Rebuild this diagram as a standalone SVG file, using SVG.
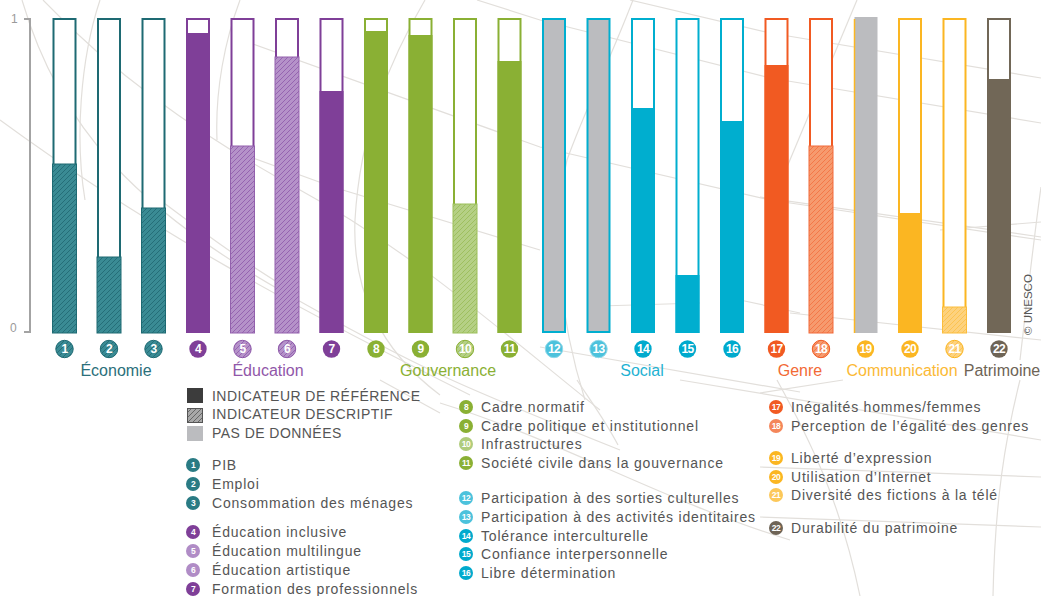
<svg xmlns="http://www.w3.org/2000/svg" width="1041" height="596" viewBox="0 0 1041 596">
<style>
.bg{fill:none;stroke:#e2dfdb;stroke-width:1.2}
.ax{fill:none;stroke:#a3a3a3;stroke-width:2}
.axt{font-family:"Liberation Sans",Arial,sans-serif;font-size:12px;fill:#9a9a9a}
.bn{font-family:"Liberation Sans",Arial,sans-serif;font-size:12px;font-weight:bold;fill:#fff;text-anchor:middle;letter-spacing:-0.6px}
.ln{font-family:"Liberation Sans",Arial,sans-serif;font-size:8.5px;font-weight:bold;fill:#fff;text-anchor:middle;letter-spacing:-0.5px}
.cat{font-family:"Liberation Sans",Arial,sans-serif;font-size:16px;text-anchor:middle}
.lg{font-family:"Liberation Sans",Arial,sans-serif;font-size:14px;fill:#555;letter-spacing:0.8px}
.lgc{font-family:"Liberation Sans",Arial,sans-serif;font-size:14px;fill:#555;letter-spacing:0.45px}
.out{fill:#fff;stroke-width:2}
.teal{stroke:#1e6a73}.purple{stroke:#7f3f98}.green{stroke:#8ab034}.cyan{stroke:#00aecf}.orange{stroke:#f15a22}.yellow{stroke:#fbb622}.brown{stroke:#716757}
</style>
<defs>
<pattern id="hTeal" patternUnits="userSpaceOnUse" width="5" height="5"><rect width="5" height="5" fill="#3a8b94"/><path d="M-1,1 L1,-1 M0,5 L5,0 M4,6 L6,4" stroke="#1f6771" stroke-width="0.8"/></pattern>
<pattern id="hPurple" patternUnits="userSpaceOnUse" width="5" height="5"><rect width="5" height="5" fill="#b592c9"/><path d="M-1,1 L1,-1 M0,5 L5,0 M4,6 L6,4" stroke="#8d58a9" stroke-width="0.8"/></pattern>
<pattern id="hGreen" patternUnits="userSpaceOnUse" width="5" height="5"><rect width="5" height="5" fill="#b5d085"/><path d="M-1,1 L1,-1 M0,5 L5,0 M4,6 L6,4" stroke="#98bb55" stroke-width="0.8"/></pattern>
<pattern id="hOrange" patternUnits="userSpaceOnUse" width="5" height="5"><rect width="5" height="5" fill="#f69a6e"/><path d="M-1,1 L1,-1 M0,5 L5,0 M4,6 L6,4" stroke="#f2703f" stroke-width="0.8"/></pattern>
<pattern id="hYellow" patternUnits="userSpaceOnUse" width="5" height="5"><rect width="5" height="5" fill="#fdd27e"/><path d="M-1,1 L1,-1 M0,5 L5,0 M4,6 L6,4" stroke="#fbbf45" stroke-width="0.8"/></pattern>
<pattern id="hGray" patternUnits="userSpaceOnUse" width="5" height="5"><rect width="5" height="5" fill="#a8a8a8"/><path d="M-1,1 L1,-1 M0,5 L5,0 M4,6 L6,4" stroke="#555" stroke-width="0.8"/></pattern>
</defs>
<rect width="1041" height="596" fill="#fff"/>
<g id="background">
<path class="bg" d="M22,0 C60,130 140,210 280,290 S470,390 620,450"/>
<path class="bg" d="M43,0 C110,70 190,130 300,190 S500,330 600,410"/>
<path class="bg" d="M100,0 C80,60 75,140 85,200"/>
<path class="bg" d="M240,0 C225,40 215,90 217,140"/>
<path class="bg" d="M0,120 C150,230 300,310 470,395"/>
<path class="bg" d="M160,200 C200,230 240,260 290,290"/>
<path class="bg" d="M250,43 L540,147 L770,200 L1041,240"/>
<path class="bg" d="M250,157 L333,187 L540,250"/>
<path class="bg" d="M425,0 C390,60 360,130 355,220 C352,290 380,350 440,395"/>
<path class="bg" d="M477,0 L540,20 L770,78 L1041,123"/>
<path class="bg" d="M630,0 L770,33 L1041,78"/>
<path class="bg" d="M760,197 L1041,237"/>
<path class="bg" d="M633,0 C610,60 585,110 567,160 C550,230 560,320 585,400"/>
<path class="bg" d="M857,0 L787,167"/>
<path class="bg" d="M1041,187 C1035,230 1028,290 1020,360"/>
<path class="bg" d="M940,230 L1041,222"/>
<path class="bg" d="M540,347 L800,392"/>
<path class="bg" d="M790,313 L1041,340"/>
<path class="bg" d="M680,380 L1041,440"/>
<path class="bg" d="M440,403 C560,440 660,500 790,540"/>
<path class="bg" d="M577,380 C590,400 605,420 618,445"/>
<path class="bg" d="M760,393 L843,380"/>
<path class="bg" d="M760,467 L1041,477"/>
<path class="bg" d="M760,517 L1041,527"/>
<path class="bg" d="M777,380 C810,440 840,500 860,596"/>
<path class="bg" d="M1020,380 C1005,440 995,500 993,596"/>
<path class="bg" d="M380,380 L440,413"/>
<path class="bg" d="M600,306 L700,303"/>
<path class="bg" d="M740,300 L800,313"/>
</g>
<g id="axis">
<path class="ax" d="M24,19 H30 V332 H24"/>
<text class="axt" x="11" y="23">1</text>
<text class="axt" x="10" y="332">0</text>
</g>
<g id="bar1"><rect class="out teal" x="53.5" y="19" width="22" height="313"/><rect x="52.5" y="164" width="24" height="169" fill="url(#hTeal)" stroke="#1e6a73" stroke-width="1"/></g>
<g id="bar2"><rect class="out teal" x="98" y="19" width="22" height="313"/><rect x="97" y="257" width="24" height="76" fill="url(#hTeal)" stroke="#1e6a73" stroke-width="1"/></g>
<g id="bar3"><rect class="out teal" x="142.5" y="19" width="22" height="313"/><rect x="141.5" y="208" width="24" height="125" fill="url(#hTeal)" stroke="#1e6a73" stroke-width="1"/></g>
<g id="bar4"><rect class="out purple" x="187" y="19" width="22" height="313"/><rect x="186" y="33" width="24" height="300" fill="#7f3f98"/></g>
<g id="bar5"><rect class="out purple" x="231.5" y="19" width="22" height="313" stroke="#8d58a9"/><rect x="230.5" y="146" width="24" height="187" fill="url(#hPurple)" stroke="#9361ad" stroke-width="1"/></g>
<g id="bar6"><rect class="out purple" x="276" y="19" width="22" height="313"/><rect x="275" y="57" width="24" height="276" fill="url(#hPurple)" stroke="#9361ad" stroke-width="1"/></g>
<g id="bar7"><rect class="out purple" x="320.5" y="19" width="22" height="313"/><rect x="319.5" y="91" width="24" height="242" fill="#7f3f98"/></g>
<g id="bar8"><rect class="out green" x="365" y="19" width="22" height="313"/><rect x="364" y="31" width="24" height="302" fill="#8ab034"/></g>
<g id="bar9"><rect class="out green" x="409.5" y="19" width="22" height="313"/><rect x="408.5" y="35" width="24" height="298" fill="#8ab034"/></g>
<g id="bar10"><rect class="out green" x="454" y="19" width="22" height="313"/><rect x="453" y="204" width="24" height="129" fill="url(#hGreen)" stroke="#9cc05a" stroke-width="1"/></g>
<g id="bar11"><rect class="out green" x="498.5" y="19" width="22" height="313"/><rect x="497.5" y="61" width="24" height="272" fill="#8ab034"/></g>
<g id="bar12"><rect class="cyan" x="543" y="19" width="22" height="313" fill="#bbbcbf" stroke-width="2"/></g>
<g id="bar13"><rect class="cyan" x="587.5" y="19" width="22" height="313" fill="#bbbcbf" stroke-width="2"/></g>
<g id="bar14"><rect class="out cyan" x="632" y="19" width="22" height="313"/><rect x="631" y="108" width="24" height="225" fill="#00aecf"/></g>
<g id="bar15"><rect class="out cyan" x="676.5" y="19" width="22" height="313"/><rect x="675.5" y="275" width="24" height="58" fill="#00aecf"/></g>
<g id="bar16"><rect class="out cyan" x="721" y="19" width="22" height="313"/><rect x="720" y="121" width="24" height="212" fill="#00aecf"/></g>
<g id="bar17"><rect class="out orange" x="765.5" y="19" width="22" height="313"/><rect x="764.5" y="65" width="24" height="268" fill="#f15a22"/></g>
<g id="bar18"><rect class="out orange" x="810" y="19" width="22" height="313"/><rect x="809" y="146" width="24" height="187" fill="url(#hOrange)" stroke="#f26a3a" stroke-width="1"/></g>
<g id="bar19"><rect x="854.5" y="17" width="23" height="316" fill="#bbbcbf"/><path d="M854.5,19 V333" stroke="#fbb622" stroke-width="1.5"/></g>
<g id="bar20"><rect class="out yellow" x="899" y="19" width="22" height="313"/><rect x="898" y="213" width="24" height="120" fill="#fbb622"/></g>
<g id="bar21"><rect class="out yellow" x="943.5" y="19" width="22" height="313"/><rect x="942.5" y="307" width="24" height="26" fill="url(#hYellow)" stroke="#fbbd3c" stroke-width="1"/></g>
<g id="bar22"><rect class="out brown" x="988" y="19" width="22" height="313"/><rect x="987" y="79" width="24" height="254" fill="#716757"/></g>
<g id="badges">
<g id="b1"><circle cx="64.5" cy="349" r="8.7" fill="url(#hTeal)" stroke="#1e6a73"/><text class="bn" x="64.5" y="353.3">1</text></g>
<g id="b2"><circle cx="109" cy="349" r="8.7" fill="url(#hTeal)" stroke="#1e6a73"/><text class="bn" x="109" y="353.3">2</text></g>
<g id="b3"><circle cx="153.5" cy="349" r="8.7" fill="url(#hTeal)" stroke="#1e6a73"/><text class="bn" x="153.5" y="353.3">3</text></g>
<g id="b4"><circle cx="198" cy="349" r="8.7" fill="#7f3f98"/><text class="bn" x="198" y="353.3">4</text></g>
<g id="b5"><circle cx="242.5" cy="349" r="8.7" fill="url(#hPurple)" stroke="#8d58a9"/><text class="bn" x="242.5" y="353.3">5</text></g>
<g id="b6"><circle cx="287" cy="349" r="8.7" fill="url(#hPurple)" stroke="#8d58a9"/><text class="bn" x="287" y="353.3">6</text></g>
<g id="b7"><circle cx="331.5" cy="349" r="8.7" fill="#7f3f98"/><text class="bn" x="331.5" y="353.3">7</text></g>
<g id="b8"><circle cx="376" cy="349" r="8.7" fill="#8ab034"/><text class="bn" x="376" y="353.3">8</text></g>
<g id="b9"><circle cx="420.5" cy="349" r="8.7" fill="#8ab034"/><text class="bn" x="420.5" y="353.3">9</text></g>
<g id="b10"><circle cx="465" cy="349" r="8.7" fill="url(#hGreen)" stroke="#8ab034"/><text class="bn" x="465" y="353.3">10</text></g>
<g id="b11"><circle cx="509.5" cy="349" r="8.7" fill="#8ab034"/><text class="bn" x="509.5" y="353.3">11</text></g>
<g id="b12"><circle cx="554" cy="349" r="8.7" fill="#4cc2dc" stroke="#8fd9ea"/><text class="bn" x="554" y="353.3">12</text></g>
<g id="b13"><circle cx="598.5" cy="349" r="8.7" fill="#4cc2dc" stroke="#8fd9ea"/><text class="bn" x="598.5" y="353.3">13</text></g>
<g id="b14"><circle cx="643" cy="349" r="8.7" fill="#00aacd"/><text class="bn" x="643" y="353.3">14</text></g>
<g id="b15"><circle cx="687.5" cy="349" r="8.7" fill="#00aacd"/><text class="bn" x="687.5" y="353.3">15</text></g>
<g id="b16"><circle cx="732" cy="349" r="8.7" fill="#00aacd"/><text class="bn" x="732" y="353.3">16</text></g>
<g id="b17"><circle cx="776.5" cy="349" r="8.7" fill="#f15a22"/><text class="bn" x="776.5" y="353.3">17</text></g>
<g id="b18"><circle cx="821" cy="349" r="8.7" fill="url(#hOrange)" stroke="#f15a22"/><text class="bn" x="821" y="353.3">18</text></g>
<g id="b19"><circle cx="865.5" cy="349" r="8.7" fill="#fbb622"/><text class="bn" x="865.5" y="353.3">19</text></g>
<g id="b20"><circle cx="910" cy="349" r="8.7" fill="#fbb622"/><text class="bn" x="910" y="353.3">20</text></g>
<g id="b21"><circle cx="954.5" cy="349" r="8.7" fill="url(#hYellow)" stroke="#fbb622"/><text class="bn" x="954.5" y="353.3">21</text></g>
<g id="b22"><circle cx="999" cy="349" r="8.7" fill="#6e6456"/><text class="bn" x="999" y="353.3">22</text></g>
</g>
<g id="categories">
<text class="cat" x="116" y="376" fill="#2b707b">Économie</text>
<text class="cat" x="268" y="376" fill="#9157a9">Éducation</text>
<text class="cat" x="448" y="376" fill="#8ab034">Gouvernance</text>
<text class="cat" x="642" y="376" fill="#1fb2d2">Social</text>
<text class="cat" x="800" y="376" fill="#f26a35">Genre</text>
<text class="cat" x="902" y="376" fill="#fbb935">Communication</text>
<text class="cat" x="1002" y="376" fill="#6e6456">Patrimoine</text>
</g>
<g id="legend-types">
<rect x="187" y="388" width="16" height="15" fill="#3c3c3c"/>
<text class="lgc" x="212" y="401">INDICATEUR DE RÉFÉRENCE</text>
<rect x="187.5" y="408.5" width="15" height="14" fill="url(#hGray)" stroke="#555"/>
<text class="lgc" x="212" y="419">INDICATEUR DESCRIPTIF</text>
<rect x="187" y="426" width="16" height="15" fill="#bbbcbf"/>
<text class="lgc" x="212" y="438">PAS DE DONNÉES</text>
</g>
<g id="legend-col1">
<circle cx="193" cy="465" r="7" fill="#2a7b84"/><text class="ln" x="193" y="468">1</text><text class="lg" x="212" y="470">PIB</text>
<circle cx="193" cy="484" r="7" fill="#2a7b84"/><text class="ln" x="193" y="487">2</text><text class="lg" x="212" y="489">Emploi</text>
<circle cx="193" cy="503" r="7" fill="#2a7b84"/><text class="ln" x="193" y="506">3</text><text class="lg" x="212" y="508">Consommation des ménages</text>
<circle cx="193" cy="532" r="7" fill="#7f3f98"/><text class="ln" x="193" y="535">4</text><text class="lg" x="212" y="537">Éducation inclusive</text>
<circle cx="193" cy="551" r="7" fill="#b08cc6"/><text class="ln" x="193" y="554">5</text><text class="lg" x="212" y="556">Éducation multilingue</text>
<circle cx="193" cy="570" r="7" fill="#b08cc6"/><text class="ln" x="193" y="573">6</text><text class="lg" x="212" y="575">Éducation artistique</text>
<circle cx="193" cy="589" r="7" fill="#7f3f98"/><text class="ln" x="193" y="592">7</text><text class="lg" x="212" y="594">Formation des professionnels</text>
</g>
<g id="legend-col2">
<circle cx="466" cy="407" r="7" fill="#8ab034"/><text class="ln" x="466" y="410">8</text><text class="lg" x="481" y="412">Cadre normatif</text>
<circle cx="466" cy="426" r="7" fill="#8ab034"/><text class="ln" x="466" y="429">9</text><text class="lg" x="481" y="431">Cadre politique et institutionnel</text>
<circle cx="466" cy="444" r="7" fill="#b0cc7c"/><text class="ln" x="466" y="447">10</text><text class="lg" x="481" y="449">Infrastructures</text>
<circle cx="466" cy="463" r="7" fill="#8ab034"/><text class="ln" x="466" y="466">11</text><text class="lg" x="481" y="468">Société civile dans la gouvernance</text>
<circle cx="466" cy="498" r="7" fill="#4cc2dc"/><text class="ln" x="466" y="501">12</text><text class="lg" x="481" y="503">Participation à des sorties culturelles</text>
<circle cx="466" cy="517" r="7" fill="#4cc2dc"/><text class="ln" x="466" y="520">13</text><text class="lg" x="481" y="522">Participation à des activités identitaires</text>
<circle cx="466" cy="536" r="7" fill="#00aacd"/><text class="ln" x="466" y="539">14</text><text class="lg" x="481" y="541">Tolérance interculturelle</text>
<circle cx="466" cy="554" r="7" fill="#00aacd"/><text class="ln" x="466" y="557">15</text><text class="lg" x="481" y="559">Confiance interpersonnelle</text>
<circle cx="466" cy="573" r="7" fill="#00aacd"/><text class="ln" x="466" y="576">16</text><text class="lg" x="481" y="578">Libre détermination</text>
</g>
<g id="legend-col3">
<circle cx="776" cy="407" r="7" fill="#f15a22"/><text class="ln" x="776" y="410">17</text><text class="lg" x="791" y="412">Inégalités hommes/femmes</text>
<circle cx="776" cy="426" r="7" fill="#f4865a"/><text class="ln" x="776" y="429">18</text><text class="lg" x="791" y="431">Perception de l’égalité des genres</text>
<circle cx="776" cy="458" r="7" fill="#fbb622"/><text class="ln" x="776" y="461">19</text><text class="lg" x="791" y="463">Liberté d’expression</text>
<circle cx="776" cy="477" r="7" fill="#fbb622"/><text class="ln" x="776" y="480">20</text><text class="lg" x="791" y="482">Utilisation d’Internet</text>
<circle cx="776" cy="495" r="7" fill="#fcc85a"/><text class="ln" x="776" y="498">21</text><text class="lg" x="791" y="500">Diversité des fictions à la télé</text>
<circle cx="776" cy="528" r="7" fill="#6e6456"/><text class="ln" x="776" y="531">22</text><text class="lg" x="791" y="533">Durabilité du patrimoine</text>
</g>
<g id="credit">
<text x="1032" y="335" transform="rotate(-90 1032 335)" font-family="'Liberation Sans',Arial,sans-serif" font-size="11.5" fill="#555">© UNESCO</text>
</g>
</svg>
